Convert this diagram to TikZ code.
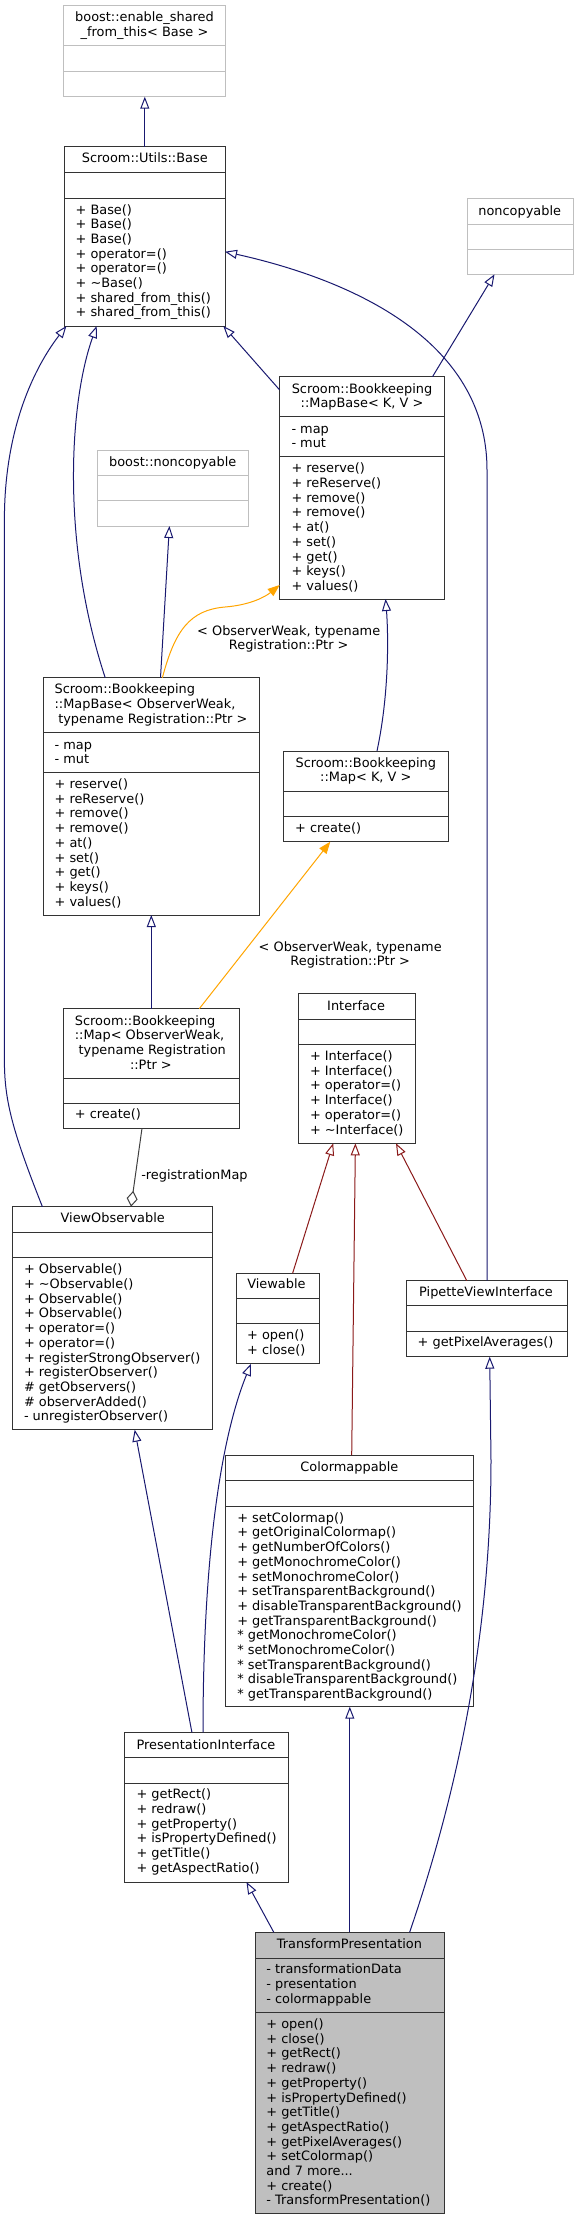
\documentclass[tikz,border=0pt]{standalone}
\usepackage{fontspec}
\setmainfont{DejaVu Sans}
\usetikzlibrary{arrows.meta,calc}
\definecolor{edgeblue}{HTML}{191970}
\definecolor{edgeorange}{HTML}{FFA500}
\definecolor{edgered}{HTML}{8B1A1A}
\definecolor{edgegray}{HTML}{404040}
\definecolor{boxline}{HTML}{333333}
\definecolor{extline}{HTML}{BFBFBF}
\definecolor{tpfill}{HTML}{BFBFBF}
\tikzset{
 boxsty/.style={rectangle,draw=boxline,line width=1pt,fill=white,inner sep=0pt,outer sep=0pt},
 extbox/.style={draw=extline},
 focusbox/.style={fill=tpfill},
 txt/.style={font=\fontsize{12.9}{14.7}\selectfont,inner sep=0pt,outer sep=0pt,text=black},
 inh/.style={draw=edgeblue,line width=1pt,-{Triangle[open,length=12pt,width=9pt]}},
 inhred/.style={draw=edgered,line width=1pt,-{Triangle[open,length=12pt,width=9pt]}},
 tmpl/.style={draw=edgeorange,line width=1pt,-{Triangle[length=12pt,width=9pt]}},
 usage/.style={draw=edgegray,line width=1pt,-{Diamond[open,length=16pt,width=11pt]}},
}
\newcommand\umlbox[6]{\node[boxsty,#6,anchor=north west,minimum width={(#3)-(#2)},minimum height={(#5)-(#4)}] (#1) at (#2,#4) {};}
\newcommand\sepline[3]{\draw[draw=#3,line width=1pt] (#1.west |- 0,#2) -- (#1.east |- 0,#2);}
\newcommand\tlines[5]{\foreach \t [count=\i from 0] in {#5} {\node[txt,anchor=#4] (#1-\i) at (#2,{#3+\i*14.7}) {\t};}}
\begin{document}
\begin{tikzpicture}[x=1pt,y=-1pt]
\useasboundingbox (0,0) rectangle (575,2220);
\fill[white] (0,0) rectangle (575,2220);

% ---------- boxes ----------
\umlbox{enable}{63.8}{225.8}{5.7}{96.7}{extbox}
\sepline{enable}{45.7}{extline}\sepline{enable}{71}{extline}
\tlines{enablet}{144.5}{21.7}{base}{boost::enable\_shared,\_from\_this< Base >}

\umlbox{base}{64.6}{225}{146.7}{326}{}
\sepline{base}{172.7}{boxline}\sepline{base}{198}{boxline}
\tlines{baset}{144.8}{162.8}{base}{Scroom::Utils::Base}
\tlines{basem}{75.6}{214}{base west}{+ Base(),+ Base(),+ Base(),+ operator=(),+ operator=(),+ \textasciitilde Base(),+ shared\_from\_this(),+ shared\_from\_this()}

\umlbox{noncopyable}{467.5}{573.8}{198.7}{274.3}{extbox}
\sepline{noncopyable}{224}{extline}\sepline{noncopyable}{249}{extline}
\tlines{noncopyablet}{519.7}{215.2}{base}{noncopyable}

\umlbox{mapbasekv}{279.7}{444.6}{376.7}{599}{}
\sepline{mapbasekv}{416.3}{boxline}\sepline{mapbasekv}{456.7}{boxline}
\tlines{mapbasekvt}{362}{393}{base}{Scroom::Bookkeeping,{::MapBase< K, V >}}
\tlines{mapbasekva}{291.5}{433.2}{base west}{- map,- mut}
\tlines{mapbasekvm}{291.5}{472.8}{base west}{+ reserve(),+ reReserve(),+ remove(),+ remove(),+ at(),+ set(),+ get(),+ keys(),+ values()}

\umlbox{bnc}{97.8}{248}{450}{526}{extbox}
\sepline{bnc}{475.3}{extline}\sepline{bnc}{500.3}{extline}
\tlines{bnct}{172.7}{466.2}{base}{boost::noncopyable}

\umlbox{mapbaseow}{43.5}{259.4}{677.7}{915}{}
\sepline{mapbaseow}{732.7}{boxline}\sepline{mapbaseow}{772.3}{boxline}
\tlines{mapbaseowt}{54.6}{693.8}{base west}{Scroom::Bookkeeping,{::MapBase< ObserverWeak,}}
\tlines{mapbaseowu}{58.3}{723.2}{base west}{typename Registration::Ptr >}
\tlines{mapbaseowa}{54.6}{749.2}{base west}{- map,- mut}
\tlines{mapbaseowm}{54.6}{788.5}{base west}{+ reserve(),+ reReserve(),+ remove(),+ remove(),+ at(),+ set(),+ get(),+ keys(),+ values()}

\umlbox{mapkv}{283.4}{448.3}{751}{841.7}{}
\sepline{mapkv}{791}{boxline}\sepline{mapkv}{816.7}{boxline}
\tlines{mapkvt}{365.8}{767.2}{base}{Scroom::Bookkeeping,{::Map< K, V >}}
\tlines{mapkvm}{295.2}{832.8}{base west}{+ create()}

\umlbox{mapow}{63.8}{239.5}{1008.7}{1128.3}{}
\sepline{mapow}{1078}{boxline}\sepline{mapow}{1103.3}{boxline}
\tlines{mapowt}{74.9}{1025.2}{base west}{Scroom::Bookkeeping,{::Map< ObserverWeak,}}
\tlines{mapowu}{78.6}{1054.6}{base west}{typename Registration}
\tlines{mapowv}{150.9}{1069.3}{base}{::Ptr >}
\tlines{mapowm}{74.9}{1118.8}{base west}{+ create()}

\umlbox{interface}{298.2}{415.1}{993.7}{1143.3}{}
\sepline{interface}{1019}{boxline}\sepline{interface}{1044.3}{boxline}
\tlines{interfacet}{356.1}{1010.2}{base}{Interface}
\tlines{interfacem}{310}{1060.5}{base west}{+ Interface(),+ Interface(),+ operator=(),+ Interface(),+ operator=(),+ \textasciitilde Interface()}

\umlbox{viewobs}{12.9}{212.5}{1206.7}{1429.7}{}
\sepline{viewobs}{1232.3}{boxline}\sepline{viewobs}{1257.7}{boxline}
\tlines{viewobst}{112.7}{1222.8}{base}{ViewObservable}
\tlines{viewobsm}{24}{1273.8}{base west}{+ Observable(),+ \textasciitilde Observable(),+ Observable(),+ Observable(),+ operator=(),+ operator=(),+ registerStrongObserver(),+ registerObserver(),\# getObservers(),\# observerAdded(),- unregisterObserver()}

\umlbox{viewable}{236.2}{319.2}{1273.3}{1363.7}{}
\sepline{viewable}{1298.5}{boxline}\sepline{viewable}{1323.7}{boxline}
\tlines{viewablet}{276.4}{1288.8}{base}{Viewable}
\tlines{viewablem}{247.2}{1339.5}{base west}{+ open(),+ close()}

\umlbox{pipette}{406.3}{567.5}{1280.7}{1356.7}{}
\sepline{pipette}{1305.7}{boxline}\sepline{pipette}{1331}{boxline}
\tlines{pipettet}{486}{1296.8}{base}{PipetteViewInterface}
\tlines{pipettem}{417.7}{1346.8}{base west}{+ getPixelAverages()}

\umlbox{colormap}{225.8}{473.8}{1455}{1706.7}{}
\sepline{colormap}{1480.7}{boxline}\sepline{colormap}{1506}{boxline}
\tlines{colormapt}{349.4}{1471.2}{base}{Colormappable}
\tlines{colormapm}{237.3}{1522.2}{base west}{+ setColormap(),+ getOriginalColormap(),+ getNumberOfColors(),+ getMonochromeColor(),+ setMonochromeColor(),+ setTransparentBackground(),+ disableTransparentBackground(),+ getTransparentBackground(),* getMonochromeColor(),* setMonochromeColor(),* setTransparentBackground(),* disableTransparentBackground(),* getTransparentBackground()}

\umlbox{presint}{124.7}{288.2}{1732.3}{1882}{}
\sepline{presint}{1757.7}{boxline}\sepline{presint}{1783}{boxline}
\tlines{presintt}{205.9}{1749.2}{base}{PresentationInterface}
\tlines{presintm}{136.5}{1798.8}{base west}{+ getRect(),+ redraw(),+ getProperty(),+ isPropertyDefined(),+ getTitle(),+ getAspectRatio()}

\umlbox{tp}{255.4}{444.6}{1932.3}{2213.3}{focusbox}
\sepline{tp}{1958}{boxline}\sepline{tp}{2012.7}{boxline}
\tlines{tpt}{349.4}{1948.8}{base}{TransformPresentation}
\tlines{tpa}{266.4}{1973.8}{base west}{- transformationData,- presentation,- colormappable}
\tlines{tpm}{266.4}{2028.5}{base west}{+ open(),+ close(),+ getRect(),+ redraw(),+ getProperty(),+ isPropertyDefined(),+ getTitle(),+ getAspectRatio(),+ getPixelAverages(),+ setColormap(),{and 7 more.{}.{}.},+ create(),- TransformPresentation()}

% ---------- connectors ----------
\draw[inh] (base.north -| 144.8,0) -- (enable.south -| 144.8,0);
\draw[inh] (mapbasekv.north -| 432.5,0) -- (noncopyable.south -| 494.5,0);
\draw[inh] (mapbasekv.west |- 0,390) -- (base.south -| 223.3,0);
\draw[inh] (pipette.north -| 487,0) -- (487,470) .. controls (487,330) and (330,275) .. (base.east |- 0,251.7);
\draw[inh] (viewobs.north -| 42.4,0) .. controls (12,1130) and (4.4,1100) .. (4.4,1060) -- (4.4,520) .. controls (4.4,420) and (40,360) .. (base.south -| 66.4,0);
\draw[inh] (mapbaseow.north -| 105.2,0) .. controls (60,540) and (70,400) .. (base.south -| 96.7,0);
\draw[inh] (mapbaseow.north -| 160.5,0) -- (bnc.south -| 169.4,0);
\draw[tmpl] (mapbaseow.north -| 162.4,0) .. controls (175,630) and (190,610) .. (225,607) .. controls (250,605) and (265,597) .. (mapbasekv.west |- 0,585);
\tlines{lblone}{288.7}{635.2}{base}{{< ObserverWeak, typename},Registration::Ptr >}
\draw[inh] (mapkv.north -| 377,0) .. controls (390,690) and (388,630) .. (mapbasekv.south -| 385.6,0);
\draw[inh] (mapow.north -| 151.3,0) -- (mapbaseow.south -| 151.3,0);
\draw[tmpl] (mapow.north -| 199.3,0) -- (mapkv.south -| 330.3,0);
\tlines{lbltwo}{350.2}{951.2}{base}{{< ObserverWeak, typename},Registration::Ptr >}
\draw[usage] (mapow.south -| 142,0) -- (viewobs.north -| 131,0);
\tlines{lblthree}{141.3}{1179.2}{base west}{-registrationMap}
\draw[inhred] (viewable.north -| 292.6,0) -- (interface.south -| 333.2,0);
\draw[inhred] (colormap.north -| 351.7,0) -- (interface.south -| 355.4,0);
\draw[inhred] (pipette.north -| 466.8,0) -- (interface.south -| 396,0);
\draw[inh] (presint.north -| 191.9,0) -- (viewobs.south -| 134.7,0);
\draw[inh] (presint.north -| 203,0) .. controls (203,1560) and (220,1440) .. (viewable.south -| 251,0);
\draw[inh] (tp.north -| 349.8,0) -- (colormap.south -| 349.8,0);
\draw[inh] (tp.north -| 273.8,0) -- (presint.south -| 246.5,0);
\draw[inh] (tp.north -| 409.6,0) .. controls (455,1800) and (491,1640) .. (491,1460) -- (pipette.south -| 489.7,0);
\end{tikzpicture}
\end{document}
